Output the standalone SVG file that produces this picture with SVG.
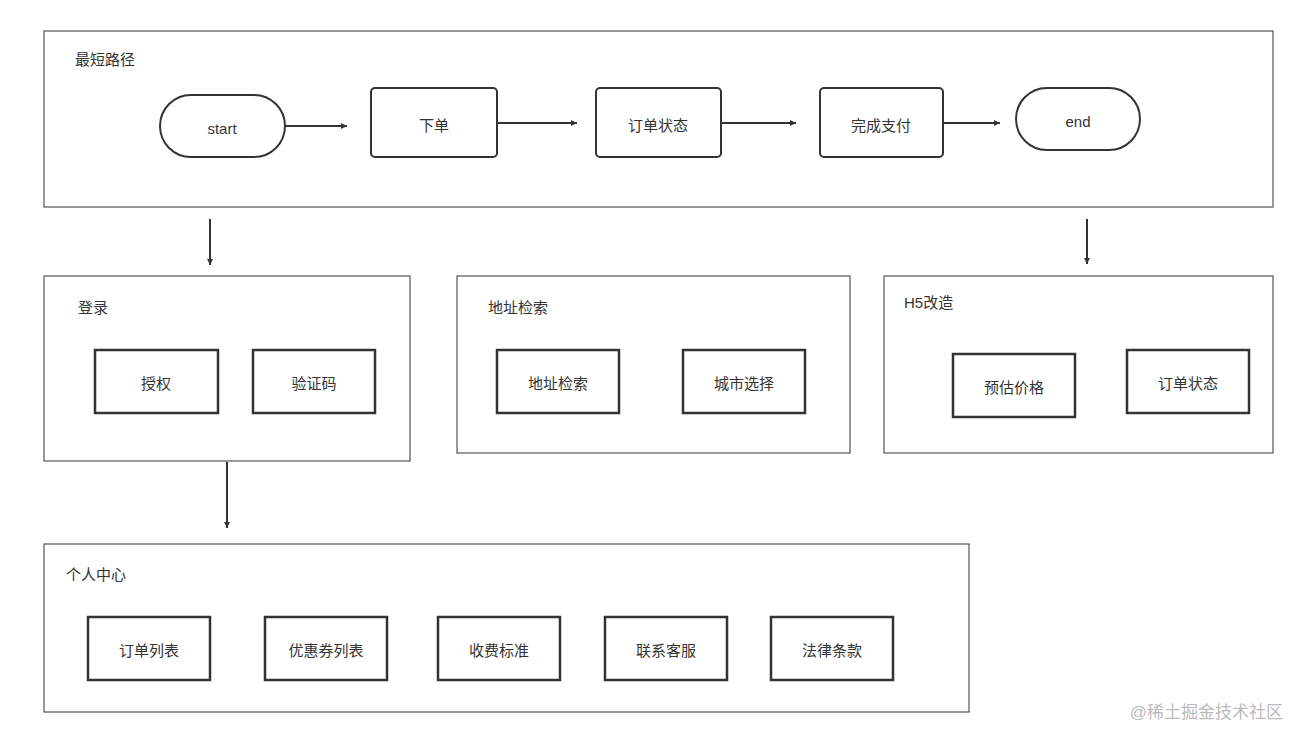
<svg xmlns="http://www.w3.org/2000/svg" width="1304" height="744" viewBox="0 0 1304 744">
<defs>
<marker id="ah" viewBox="0 0 10 10" refX="10" refY="5" markerWidth="6" markerHeight="6" markerUnits="userSpaceOnUse" orient="auto"><path d="M0,0 L10,5 L0,10 z" fill="#333"/></marker>
<style>
text{font-family:"Liberation Sans","Noto Sans CJK SC",sans-serif;font-size:15px;fill:#333}
.c{text-anchor:middle;dominant-baseline:central}
.g{fill:#fff;stroke:#333;stroke-width:1}
.n{fill:#fff;stroke:#333;stroke-width:2}
.b{fill:#fff;stroke:#333;stroke-width:2.5}
.l{stroke:#333;stroke-width:2;fill:none;marker-end:url(#ah)}
</style>
</defs>
<rect width="1304" height="744" fill="#fff"/>
<g id="top"><rect class="g" x="44" y="31" width="1229" height="176"/><text x="75" y="65">最短路径</text></g>
<g id="start"><rect class="n" x="160" y="95" width="125" height="62" rx="31"/><text class="c" x="222" y="128">start</text></g>
<g id="xiadan"><rect class="n" x="371" y="88" width="126" height="69" rx="4"/><text class="c" x="434" y="125">下单</text></g>
<g id="ddzt"><rect class="n" x="596" y="88" width="125" height="69" rx="4"/><text class="c" x="658" y="125">订单状态</text></g>
<g id="wczf"><rect class="n" x="820" y="88" width="123" height="69" rx="4"/><text class="c" x="881" y="125">完成支付</text></g>
<g id="end"><rect class="n" x="1016" y="88" width="124" height="62" rx="31"/><text class="c" x="1078" y="121">end</text></g>
<g id="login"><rect class="g" x="44" y="276" width="366" height="185"/><text x="78" y="313">登录</text>
<rect class="b" x="95" y="350" width="123" height="63"/><text class="c" x="156" y="383">授权</text>
<rect class="b" x="253" y="350" width="122" height="63"/><text class="c" x="314" y="383">验证码</text></g>
<g id="addr"><rect class="g" x="457" y="276" width="393" height="177"/><text x="488" y="313">地址检索</text>
<rect class="b" x="497" y="350" width="122" height="63"/><text class="c" x="558" y="383">地址检索</text>
<rect class="b" x="683" y="350" width="122" height="63"/><text class="c" x="744" y="383">城市选择</text></g>
<g id="h5"><rect class="g" x="884" y="276" width="389" height="177"/><text x="904" y="308">H5改造</text>
<rect class="b" x="953" y="354" width="122" height="63"/><text class="c" x="1014" y="387">预估价格</text>
<rect class="b" x="1127" y="350" width="122" height="63"/><text class="c" x="1188" y="383">订单状态</text></g>
<g id="personal"><rect class="g" x="44" y="544" width="925" height="168"/><text x="66" y="580">个人中心</text>
<rect class="b" x="88" y="617" width="122" height="63"/><text class="c" x="149" y="650">订单列表</text>
<rect class="b" x="265" y="617" width="122" height="63"/><text class="c" x="326" y="650">优惠券列表</text>
<rect class="b" x="438" y="617" width="122" height="63"/><text class="c" x="499" y="650">收费标准</text>
<rect class="b" x="605" y="617" width="122" height="63"/><text class="c" x="666" y="650">联系客服</text>
<rect class="b" x="771" y="617" width="122" height="63"/><text class="c" x="832" y="650">法律条款</text></g>
<g id="connectors">
<line class="l" x1="285" y1="126" x2="347" y2="126"/>
<line class="l" x1="497" y1="123" x2="577" y2="123"/>
<line class="l" x1="721" y1="123" x2="796" y2="123"/>
<line class="l" x1="943" y1="123" x2="1000" y2="123"/>
<line class="l" x1="210" y1="219" x2="210" y2="265"/>
<line class="l" x1="1087" y1="219" x2="1087" y2="264"/>
<line class="l" x1="227" y1="462" x2="227" y2="528"/>
</g>
<text x="1283" y="718" style="font-size:17px;fill:#bbb;text-anchor:end">@稀土掘金技术社区</text>
</svg>
